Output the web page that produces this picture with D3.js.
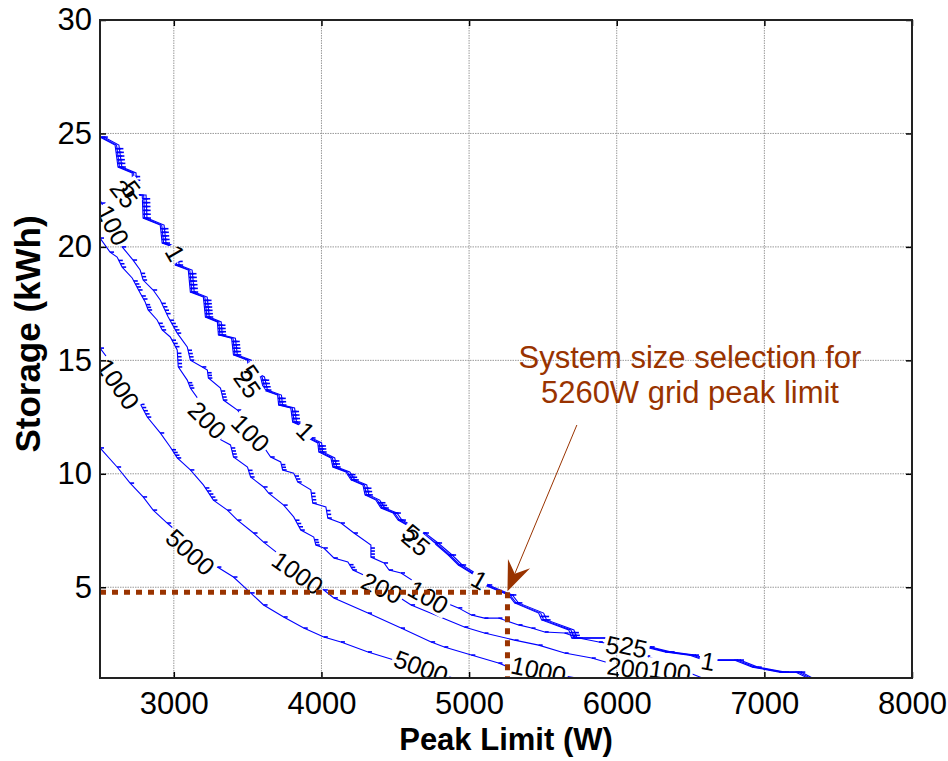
<!DOCTYPE html>
<html>
<head>
<meta charset="utf-8">
<script src="https://cdn.jsdelivr.net/npm/d3@7"></script>
<style>
  body { margin: 0; background: #fff; }
  text { font-family: "Liberation Sans", Arial, sans-serif; }
</style>
</head>
<body>
<svg id="chart" width="948" height="761"></svg>
<script>
// axis ticks
const xTicks = [3000, 4000, 5000, 6000, 7000, 8000];
const yTicks = [5, 10, 15, 20, 25, 30];

// contour levels 1 / 5 / 25 run as a tight bundle, they share the storage values
const storTop = [24.84,24.49,23.52,23.26,22.29,22.29,21.27,20.96,20.17,20.00,19.20,18.98,18.01,17.79,16.91,16.69,16.12,15.98,15.24,15.01,
  14.57,14.27,13.69,13.47,13.03,12.90,12.28,12.06,11.58,11.36,10.96,10.70,10.30,10.08,9.73,9.51,9.07,8.84,8.49,8.27,
  7.96,7.39,6.95,6.42,5.98,5.63,5.10,4.66,4.31,3.86,3.56,3.12,2.76,2.76,2.37,2.15,2.01,1.79,1.79,1.48,1.26,1.26,1.0];
const peak1 = [2500,2602,2622,2718,2724,2786,2792,2908,2921,2996,3010,3098,3112,3200,3214,3295,3302,3391,3404,3499,
  3506,3588,3608,3703,3710,3792,3805,3880,3907,3975,3982,4064,4077,4166,4200,4281,4295,4369,4403,4485,
  4519,4675,4764,4859,4927,5015,5104,5267,5308,5471,5491,5675,5695,5947,6191,6327,6490,6592,6796,6919,7102,7211,7293];
const peak5 = [2526,2628,2648,2744,2750,2812,2818,2934,2947,3022,3036,3124,3138,3226,3240,3321,3328,3417,3430,3525,
  3532,3614,3634,3729,3736,3818,3831,3906,3933,4001,4008,4090,4103,4192,4226,4307,4321,4395,4429,4511,
  4545,4701,4790,4885,4953,5041,5130,5293,5334,5505,5525,5710,5730,5985,6230,6365,6530,6630,6835,6955,7140,7250,7325];
const peak25 = [2510,2612,2632,2728,2734,2796,2802,2918,2931,3006,3020,3108,3122,3210,3224,3305,3312,3401,3414,3509,
  3516,3598,3618,3713,3720,3802,3815,3890,3917,3985,3992,4074,4087,4176,4210,4291,4305,4379,4413,4495,
  4529,4685,4774,4869,4937,5025,5114,5277,5318,5485,5505,5690,5710,5965,6210,6345,6510,6610,6815,6935,7120,7230,7310];

const peak100 = [2500,2575,2650,2724,2772,2792,2860,2908,2962,3023,3091,3112,3193,3227,3234,3316,3336,3431,3545,3656,
  3724,3737,3812,3839,3928,3941,4030,4043,4132,4220,4335,4335,4424,4458,4539,4700,4845,4927,5015,5104,
  5199,5335,5423,5512,5647,5743,5879,6015,6200,6400,6580];
const stor100 = [22.07,21.10,20.00,19.42,18.98,18.54,18.10,17.66,16.91,16.20,15.59,15.01,14.71,14.57,14.22,13.78,13.25,12.81,11.8,10.74,
  10.52,10.17,10.03,9.64,9.29,8.71,8.54,8.05,7.83,7.39,6.86,6.33,6.07,5.76,5.63,4.95,4.31,4.09,3.78,3.64,
  3.64,3.34,3.20,3.03,2.98,2.76,2.59,2.45,1.97,1.46,1.0];

const peak200 = [2500,2568,2616,2650,2718,2772,2806,2826,2887,2921,2976,3023,3030,3091,3112,3180,3240,3295,3384,3404,
  3499,3520,3608,3642,3744,3812,3860,3948,3962,4016,4084,4179,4213,4315,4607,4968,5104,5308,5471,5647,
  5831,5947,6103,6273];
const stor200 = [20.39,19.77,19.55,19.11,18.63,17.97,17.57,17.22,16.78,16.34,16.03,15.46,14.71,14.13,13.78,13.16,12.4,11.58,11.27,10.74,
  10.30,9.86,9.42,9.15,8.62,8.10,7.52,7.21,6.86,6.73,6.29,6.11,5.76,5.45,4.22,3.25,2.98,2.67,2.45,2.10,
  1.88,1.66,1.35,1.0];

const peak1000 = [2500,2620,2752,2820,2908,2976,3023,3112,3200,3268,3363,3431,3540,3608,3810,4016,4084,4315,4539,4743,
  4832,5015,5199,5267,5500,5729];
const stor1000 = [15.54,14.5,13.34,12.50,11.80,11.18,10.70,10.17,9.51,8.84,8.40,7.96,7.39,6.99,5.95,4.88,4.53,3.86,3.20,2.59,
  2.37,2.01,1.66,1.48,1.25,1.0];

const peak5000 = [2500,2616,2704,2792,2860,2955,3125,3295,3404,3520,3608,3744,3880,4016,4132,4315,4492,4675,4893];
const stor5000 = [11.14,10.30,9.59,8.98,8.40,7.83,6.86,5.89,5.45,4.75,4.22,3.69,3.20,2.81,2.59,2.15,1.79,1.40,1.0];

// selected system size
const selPeak = 5260;
const selStorage = 4.78;

const contours = [
  { level: '1', peak: peak1, stor: storTop },
  { level: '25', peak: peak25, stor: storTop },
  { level: '5', peak: peak5, stor: storTop },
  { level: '100', peak: peak100, stor: stor100 },
  { level: '200', peak: peak200, stor: stor200 },
  { level: '1000', peak: peak1000, stor: stor1000 },
  { level: '5000', peak: peak5000, stor: stor5000 }
];

// inline contour labels (placed like clabel did)
const contourLabels = [
  { t: '100', p: 2588, s: 20.96, a: 62 },
  { t: '25', p: 2663, s: 22.33, a: 52 },
  { t: '5', p: 2711, s: 22.55, a: 52 },
  { t: '1', p: 3010, s: 19.73, a: 60 },
  { t: '5', p: 3513, s: 14.44, a: 55 },
  { t: '25', p: 3499, s: 13.96, a: 55 },
  { t: '1', p: 3894, s: 11.89, a: 45 },
  { t: '5', p: 4607, s: 7.39, a: 40 },
  { t: '25', p: 4641, s: 6.99, a: 40 },
  { t: '1', p: 5070, s: 5.32, a: 30 },
  { t: '5', p: 5974, s: 2.45, a: 12 },
  { t: '25', p: 6113, s: 2.37, a: 12 },
  { t: '1', p: 6620, s: 1.75, a: 10 },
  { t: '200', p: 6076, s: 1.44, a: 8 },
  { t: '100', p: 6361, s: 1.31, a: 8 },
  { t: '1000', p: 5471, s: 1.35, a: 12 },
  { t: '5000', p: 4675, s: 1.48, a: 20 },
  { t: '5000', p: 3112, s: 6.55, a: 42 },
  { t: '1000', p: 3839, s: 5.63, a: 35 },
  { t: '1000', p: 2622, s: 13.96, a: 55 },
  { t: '200', p: 3227, s: 12.37, a: 45 },
  { t: '100', p: 3520, s: 11.80, a: 45 },
  { t: '200', p: 4410, s: 4.97, a: 25 },
  { t: '100', p: 4723, s: 4.57, a: 30 }
];

const W = 948, H = 761;
const pl = 100, pr = 912, pt = 20, pb = 678;
const brown = '#993300';
const blue = '#0000ff';

const svg = d3.select('#chart');
svg.append('rect').attr('width', W).attr('height', H).attr('fill', '#fff');

const x = d3.scaleLinear().domain([2500, 8000]).range([pl, pr]);
const y = d3.scaleLinear().domain([1, 30]).range([pb, pt]);

const defs = svg.append('defs');
defs.append('clipPath').attr('id', 'plotClip')
  .append('rect').attr('x', pl).attr('y', pt).attr('width', pr - pl).attr('height', pb - pt);
const mask = defs.append('mask').attr('id', 'lblMask')
  .attr('maskUnits', 'userSpaceOnUse').attr('x', 0).attr('y', 0).attr('width', W).attr('height', H);
mask.append('rect').attr('width', W).attr('height', H).attr('fill', '#fff');

// grid (dotted, like matlab grid on)
const grid = svg.append('g');
grid.selectAll('.vg').data(xTicks.filter(d => d < 8000)).join('line')
  .attr('x1', d => x(d)).attr('x2', d => x(d)).attr('y1', pt).attr('y2', pb)
  .attr('stroke', '#9a9a9a').attr('stroke-width', 1).attr('stroke-dasharray', '1.5,1');
grid.selectAll('.hg').data(yTicks.filter(d => d < 30)).join('line')
  .attr('x1', pl).attr('x2', pr).attr('y1', d => y(d)).attr('y2', d => y(d))
  .attr('stroke', '#9a9a9a').attr('stroke-width', 1).attr('stroke-dasharray', '1.5,1');

// contour lines
const plot = svg.append('g').attr('clip-path', 'url(#plotClip)');
const lines = plot.append('g').attr('mask', 'url(#lblMask)');
const lineGen = d3.line();

contours.forEach(c => {
  const pts = c.peak.map((p, i) => [x(p), y(c.stor[i])]);
  lines.append('path')
    .attr('d', lineGen(pts))
    .attr('fill', 'none')
    .attr('stroke', blue)
    .attr('stroke-width', 1.1);

  // small step marks along the staircase
  const marks = [];
  for (let i = 0; i < pts.length - 1; i++) {
    const [x0, y0] = pts[i], [x1, y1] = pts[i + 1];
    const dx = x1 - x0, dy = y1 - y0;
    const len = Math.hypot(dx, dy);
    if (Math.abs(dy) > 1.5 * Math.abs(dx) && len > 5) {
      const n = Math.floor(len / 4);
      for (let k = 1; k <= n; k++) marks.push([x0 + dx * k / (n + 1), y0 + dy * k / (n + 1)]);
    } else {
      marks.push([x0, y0]);
    }
  }
  lines.append('g').selectAll('line').data(marks).join('line')
    .attr('x1', d => d[0]).attr('x2', d => d[0] + 4)
    .attr('y1', d => d[1]).attr('y2', d => d[1])
    .attr('stroke', blue).attr('stroke-width', 1.6);
});

// labels + gaps in the lines under them
const lbl = plot.append('g');
contourLabels.forEach(l => {
  const tr = 'translate(' + x(l.p) + ',' + y(l.s) + ') rotate(' + l.a + ')';
  const t = lbl.append('text')
    .attr('transform', tr)
    .attr('text-anchor', 'middle')
    .attr('dy', '0.36em')
    .attr('font-size', 25)
    .attr('fill', '#000')
    .text(l.t);
  const bb = t.node().getBBox();
  mask.append('rect')
    .attr('transform', tr)
    .attr('x', bb.x - 2).attr('y', bb.y + 3)
    .attr('width', bb.width + 4).attr('height', bb.height - 5)
    .attr('fill', '#000');
});

// selection: dotted guide lines
svg.append('line')
  .attr('x1', x(2500)).attr('x2', x(selPeak))
  .attr('y1', y(selStorage)).attr('y2', y(selStorage))
  .attr('stroke', brown).attr('stroke-width', 5).attr('stroke-dasharray', '6,6');
svg.append('line')
  .attr('x1', x(selPeak)).attr('x2', x(selPeak))
  .attr('y1', y(selStorage)).attr('y2', y(1))
  .attr('stroke', brown).attr('stroke-width', 5).attr('stroke-dasharray', '6,6');

// annotation arrow
const tail = [x(5730), y(12.15)];
const tip = [x(selPeak), y(selStorage) - 1];
const ang = Math.atan2(tip[1] - tail[1], tip[0] - tail[0]);
const ux = Math.cos(ang), uy = Math.sin(ang);
const headL = 30, headW = 12, notch = 19;
const back = [tip[0] - headL * ux, tip[1] - headL * uy];
const notchP = [tip[0] - notch * ux, tip[1] - notch * uy];
svg.append('line')
  .attr('x1', tail[0]).attr('y1', tail[1]).attr('x2', notchP[0]).attr('y2', notchP[1])
  .attr('stroke', brown).attr('stroke-width', 1);
svg.append('path')
  .attr('d', d3.line()([
    tip,
    [back[0] - headW * uy, back[1] + headW * ux],
    notchP,
    [back[0] + headW * uy, back[1] - headW * ux]
  ]) + 'Z')
  .attr('fill', brown);

const note = svg.append('text')
  .attr('x', x(6496)).attr('y', y(14.66))
  .attr('text-anchor', 'middle')
  .attr('font-size', 31)
  .attr('fill', brown);
note.append('tspan').attr('x', x(6496)).text('System size selection for');
note.append('tspan').attr('x', x(6496)).attr('dy', 35).text('5260W grid peak limit');

// axes, matlab style: ticks inside on all four sides
const styleAxis = g => {
  g.select('.domain').remove();
  g.selectAll('.tick line').attr('stroke', '#000').attr('stroke-width', 1.5);
  g.selectAll('.tick text').attr('font-size', 31).attr('fill', '#000')
    .attr('font-family', '"Liberation Sans", Arial, sans-serif');
};
svg.append('g').attr('transform', 'translate(0,' + pb + ')')
  .call(d3.axisBottom(x).tickValues(xTicks).tickFormat(d3.format('d'))
    .tickSizeInner(-6).tickSizeOuter(0).tickPadding(14))
  .call(styleAxis);
svg.append('g').attr('transform', 'translate(0,' + pt + ')')
  .call(d3.axisTop(x).tickValues(xTicks).tickSizeInner(-6).tickSizeOuter(0).tickFormat(''))
  .call(styleAxis);
svg.append('g').attr('transform', 'translate(' + pl + ',0)')
  .call(d3.axisLeft(y).tickValues(yTicks).tickFormat(d3.format('d'))
    .tickSizeInner(-6).tickSizeOuter(0).tickPadding(8))
  .call(styleAxis);
svg.append('g').attr('transform', 'translate(' + pr + ',0)')
  .call(d3.axisRight(y).tickValues(yTicks).tickSizeInner(-6).tickSizeOuter(0).tickFormat(''))
  .call(styleAxis);

svg.append('rect')
  .attr('x', pl).attr('y', pt).attr('width', pr - pl).attr('height', pb - pt)
  .attr('fill', 'none').attr('stroke', '#222').attr('stroke-width', 2);

// axis titles
svg.append('text')
  .attr('x', (pl + pr) / 2).attr('y', 750)
  .attr('text-anchor', 'middle')
  .attr('font-size', 31).attr('font-weight', 'bold')
  .text('Peak Limit (W)');
svg.append('text')
  .attr('transform', 'translate(40,334) rotate(-90)')
  .attr('text-anchor', 'middle')
  .attr('font-size', 35).attr('font-weight', 'bold')
  .text('Storage (kWh)');
</script>
</body>
</html>
